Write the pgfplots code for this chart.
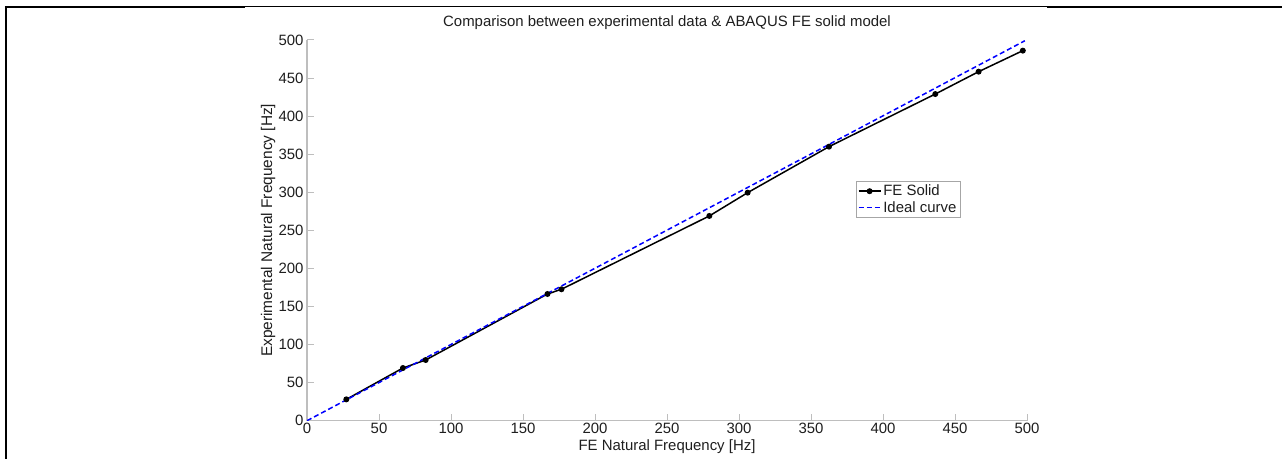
\documentclass[border=0pt]{standalone}
\usepackage{pgfplots}
\pgfplotsset{compat=1.18}
\usepackage{fontspec}
\setmainfont{Liberation Sans}
\definecolor{axgray}{RGB}{190,190,190}
\definecolor{txt}{RGB}{30,30,30}
\begin{document}
\begin{tikzpicture}[x=1bp,y=1bp]
\path[use as bounding box] (0,0) rectangle (1282,459);
\draw[line width=2.2bp] (6,0) -- (6,452.5);
\draw[line width=2.2bp] (4.9,452) -- (245,452);
\draw[line width=1bp] (245,452) -- (1047,452);
\draw[line width=2.2bp] (1047,452) -- (1282,452);
\begin{axis}[
  at={(307bp,38.3bp)}, anchor=south west,
  scale only axis, width=720bp, height=380.7bp,
  xmin=0, xmax=500, ymin=0, ymax=500,
  axis x line*=bottom, axis y line*=left,
  axis line style={axgray, line width=1.2bp, -},
  xtick={0,50,...,500}, ytick={0,50,...,500},
  tick style={axgray, line width=1bp},
  major tick length=7bp,
  tick align=inside,
  /pgf/number format/assume math mode=true,
  ticklabel style={font=\fontsize{15}{15}\selectfont, text=txt},
  xticklabel style={yshift=1bp},
  title={Comparison between experimental data \& ABAQUS FE solid model},
  title style={font=\fontsize{15}{15}\selectfont, text=txt, at={(axis description cs:0.5,1.045)}, anchor=center},
  every axis title shift=0pt,
  xlabel={FE Natural Frequency [Hz]},
  xlabel style={font=\fontsize{15}{15}\selectfont, text=txt, at={(axis description cs:0.5,-0.068)}, anchor=center},
  ylabel={Experimental Natural Frequency [Hz]},
  ylabel style={font=\fontsize{15.5}{15.5}\selectfont, text=txt, at={(axis description cs:-0.054,0.5)}, anchor=center},
  legend style={at={(axis cs:381,315)}, anchor=north west, draw=gray!70, font=\fontsize{15}{16}\selectfont, inner sep=2bp, row sep=0bp, text=txt},
  legend cell align=left,
  legend image code/.code={\draw[mark repeat=2,mark phase=2,#1] plot coordinates {(0bp,0bp) (11bp,0bp) (22bp,0bp)};},
]
\addplot[black, line width=1.5bp, mark=*, mark size=2.2bp] coordinates {
(27.3,28.0) (66.6,69.2) (82.4,79.7) (167,166.4) (176.7,172.6) (279.4,268.9)
(306,299.5) (362.5,359.9) (436.3,429) (466.4,458.4) (497.1,486)
};
\addlegendentry{FE Solid}
\addplot[blue, line width=1.5bp, dash pattern=on 5bp off 3bp] coordinates {(0,0) (498.5,499)};
\addlegendentry{Ideal curve}
\end{axis}
\end{tikzpicture}
\end{document}
